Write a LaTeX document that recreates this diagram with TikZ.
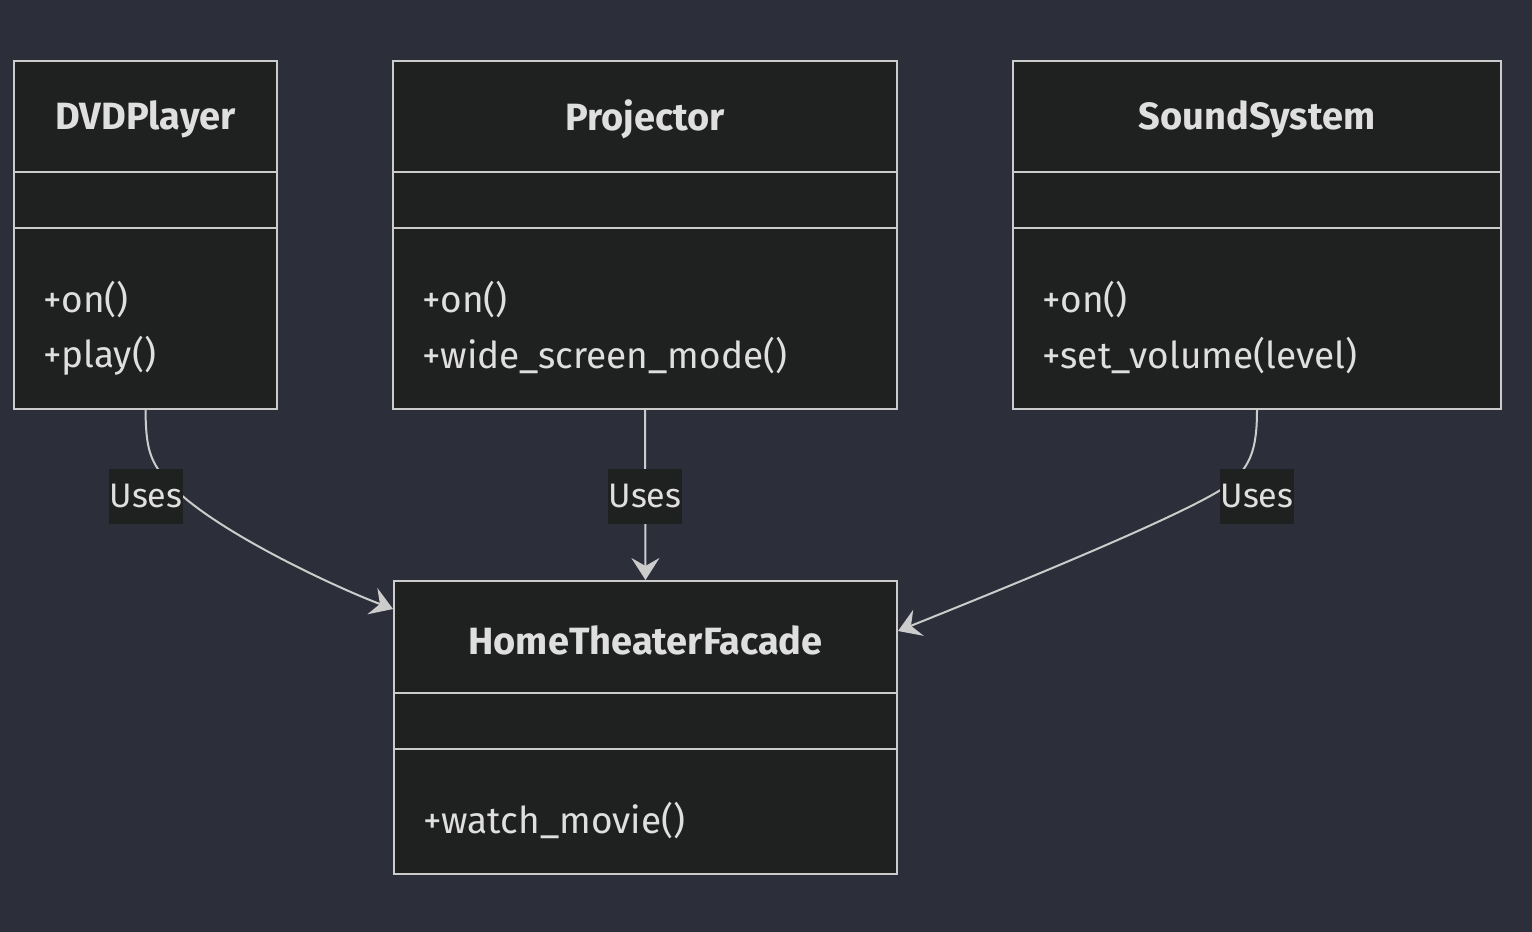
\documentclass[tikz,border=0pt]{standalone}
\usepackage{fontspec}
\setmainfont{Fira Sans}
\usetikzlibrary{arrows.meta,calc}
\definecolor{bg}{HTML}{2C2F3A}
\definecolor{boxfill}{HTML}{1F2020}
\definecolor{boxline}{HTML}{CCCCCC}
\definecolor{txt}{HTML}{E0DFDF}
\tikzset{
  umlbox/.style={draw=boxline, line width=2pt, fill=boxfill, rectangle, inner sep=0pt},
  divider/.style={draw=boxline, line width=2pt},
  titletxt/.style={text=txt, font=\fontsize{38}{40}\selectfont\bfseries, inner sep=0pt},
  membertxt/.style={text=txt, font=\fontsize{37}{40}\selectfont, inner sep=0pt, anchor=west},
  edge/.style={draw=boxline, line width=2pt, -{Stealth[length=22pt,width=28pt,inset=8pt]}},
  lbl/.style={fill=boxfill, text=txt, font=\fontsize{34}{40}\selectfont, inner sep=0pt, minimum width=74pt, minimum height=55pt}
}
\begin{document}
\begin{tikzpicture}[x=1pt,y=-1pt]
\path[fill=bg] (0,0) rectangle (1532,932);
\useasboundingbox (0,0) rectangle (1532,932);
% boxes
\node[umlbox, minimum width=263pt, minimum height=348pt] (dvd) at (145.5,235) {};
\node[umlbox, minimum width=504pt, minimum height=348pt] (proj) at (645,235) {};
\node[umlbox, minimum width=488pt, minimum height=348pt] (snd) at (1257,235) {};
\node[umlbox, minimum width=503pt, minimum height=293pt] (htf) at (645.5,727.5) {};
% dividers
\foreach \b in {dvd,proj,snd}{
  \draw[divider] (\b.west |- 0,172) -- (\b.east |- 0,172);
  \draw[divider] (\b.west |- 0,228) -- (\b.east |- 0,228);
}
\draw[divider] (htf.west |- 0,693) -- (htf.east |- 0,693);
\draw[divider] (htf.west |- 0,749) -- (htf.east |- 0,749);
% titles
\node[titletxt] (tdvd) at (145.5,119) {DVDPlayer};
\node[titletxt] (tproj) at (645,119) {Projector};
\node[titletxt] (tsnd) at (1257,119) {SoundSystem};
\node[titletxt] (thtf) at (645.5,640) {HomeTheaterFacade};
% members
\node[membertxt] (m1) at (43,300) {+on()};
\node[membertxt] (m2) at (43,356) {+play()};
\node[membertxt] (m3) at (422,300) {+on()};
\node[membertxt] (m4) at (422,356) {+wide\_screen\_mode()};
\node[membertxt] (m5) at (1042,300) {+on()};
\node[membertxt] (m6) at (1042,356) {+set\_volume(level)};
\node[membertxt] (m7) at (423,821) {+watch\_movie()};
% edges
\coordinate (e1) at ($(htf.north west)+(0,29)$);
\coordinate (e3) at ($(htf.north east)+(0,51)$);
\draw[edge] (dvd.south) .. controls (146,450) and (150,462) .. (170,484) .. controls (210,528) and (330,585) .. (e1);
\draw[edge] (proj.south) -- (htf.north);
\draw[edge] (snd.south) .. controls (1257,450) and (1250,465) .. (1232,482) .. controls (1200,510) and (980,598) .. (e3);
% labels
\node[lbl] (l1) at (146,496) {Uses};
\node[lbl] (l2) at (645,496) {Uses};
\node[lbl] (l3) at (1257,496) {Uses};
\end{tikzpicture}
\end{document}
